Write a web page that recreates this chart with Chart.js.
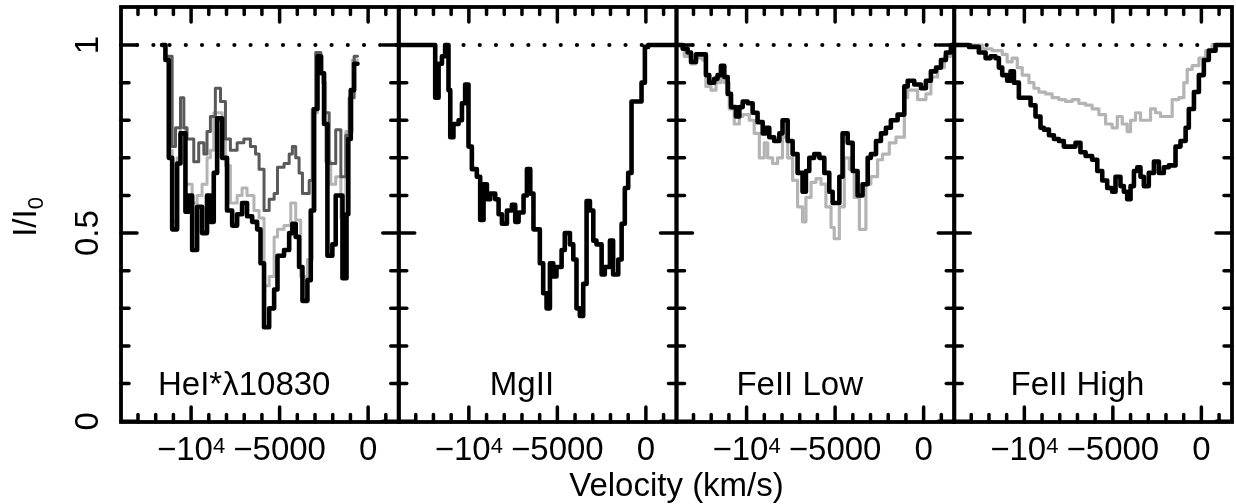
<!DOCTYPE html>
<html>
<head>
<meta charset="utf-8">
<script src="https://cdn.jsdelivr.net/npm/chart.js@4.4.1/dist/chart.umd.min.js"></script>
<style>
  body { margin: 0; background: #fff; }
  #wrap { position: relative; width: 1236px; height: 504px; }
  #wrap canvas { position: absolute; left: 0; top: 0; }
</style>
</head>
<body>
<div id="wrap">
  <canvas id="p0" width="1236" height="504"></canvas>
  <canvas id="p1" width="1236" height="504"></canvas>
  <canvas id="p2" width="1236" height="504"></canvas>
  <canvas id="p3" width="1236" height="504"></canvas>
</div>
<script>
// ---- data (velocity km/s, I/I0), each point starts a step ----
const panelNames = ['HeI*λ10830', 'MgII', 'FeII Low', 'FeII High'];
const velRange = [-13960, 1730];
const fluxRange = [-0.002, 1.101];
const xMajorTicks = [-10000, -5000, 0];
const xTickLabels = ['−10^4', '−5000', '0'];
const yMajorTicks = [0, 0.5, 1];
const yTickLabels = ['0', '0.5', '1'];

const heBlack = [[-11640,1.00],[-11450,0.96],[-11260,0.70],[-11070,0.51],[-10790,0.685],[-10600,0.765],
  [-10320,0.557],[-10130,0.60],[-9940,0.455],[-9660,0.57],[-9380,0.50],[-9100,0.60],[-8910,0.53],
  [-8720,0.66],[-8530,0.805],[-8250,0.70],[-7970,0.56],[-7680,0.52],[-7400,0.55],[-7120,0.58],
  [-6840,0.545],[-6550,0.53],[-6270,0.51],[-6080,0.42],[-5880,0.25],[-5590,0.30],[-5310,0.35],
  [-5120,0.44],[-4750,0.455],[-4460,0.50],[-4280,0.525],[-4090,0.49],[-3900,0.41],[-3710,0.32],
  [-3430,0.375],[-3240,0.56],[-3050,0.83],[-2860,0.97],[-2670,0.925],[-2490,0.79],[-2300,0.44],
  [-2020,0.47],[-1830,0.60],[-1450,0.38],[-1220,0.55],[-1120,0.75],[-980,0.88],[-790,0.95],[-600,0.95]];

const heDark = [[-11450,0.97],[-11070,0.73],[-10880,0.78],[-10600,0.86],[-10410,0.78],[-10230,0.75],
  [-9850,0.69],[-9570,0.74],[-9280,0.71],[-9100,0.77],[-8910,0.81],[-8630,0.885],[-8340,0.85],
  [-8060,0.75],[-7780,0.72],[-7400,0.74],[-7020,0.75],[-6650,0.73],[-6360,0.71],[-6160,0.67],
  [-5880,0.56],[-5590,0.59],[-5310,0.605],[-5120,0.675],[-4750,0.685],[-4460,0.71],[-4280,0.73],
  [-4090,0.70],[-3900,0.66],[-3710,0.605],[-3330,0.64],[-3150,0.83],[-2960,0.98],[-2670,0.925],
  [-2490,0.82],[-2200,0.685],[-1830,0.775],[-1540,0.65],[-1260,0.76],[-1070,0.86],[-790,0.97],[-600,0.97]];

const heLight = [[-11640,1.00],[-11450,0.965],[-11260,0.72],[-11070,0.53],[-10790,0.70],[-10600,0.78],
  [-10320,0.63],[-9940,0.58],[-9660,0.60],[-9380,0.63],[-9100,0.70],[-8910,0.72],[-8720,0.82],
  [-8250,0.75],[-8060,0.68],[-7780,0.58],[-7400,0.60],[-7120,0.62],[-6840,0.60],[-6450,0.56],
  [-6160,0.54],[-5880,0.36],[-5590,0.385],[-5310,0.49],[-5120,0.51],[-4750,0.52],[-4370,0.58],
  [-4090,0.535],[-3810,0.385],[-3430,0.43],[-3150,0.82],[-2860,0.97],[-2580,0.90],[-2400,0.69],
  [-2110,0.63],[-1830,0.65],[-1540,0.54],[-1260,0.77],[-890,0.96],[-600,0.96]];

const mgBlack = [[-13960,1.00],[-11900,0.86],[-11710,0.95],[-11520,0.97],[-11340,1.00],[-11150,0.88],
  [-11050,0.755],[-10870,0.79],[-10580,0.80],[-10390,0.845],[-10210,0.895],[-10020,0.73],[-9830,0.67],
  [-9550,0.65],[-9360,0.535],[-9170,0.63],[-8980,0.59],[-8790,0.605],[-8510,0.59],[-8320,0.55],
  [-8130,0.525],[-7850,0.56],[-7570,0.575],[-7380,0.53],[-7190,0.555],[-6910,0.60],[-6720,0.67],
  [-6530,0.605],[-6350,0.51],[-5990,0.42],[-5800,0.34],[-5610,0.30],[-5420,0.42],[-5230,0.385],
  [-5050,0.41],[-4760,0.455],[-4580,0.50],[-4290,0.47],[-4100,0.43],[-3920,0.30],[-3730,0.28],
  [-3540,0.365],[-3350,0.585],[-3160,0.56],[-2970,0.48],[-2790,0.47],[-2500,0.39],[-2320,0.41],
  [-2030,0.48],[-1850,0.39],[-1560,0.43],[-1370,0.525],[-1190,0.62],[-1000,0.66],[-810,0.85],
  [-245,0.90],[-56,0.995],[130,1.00],[1730,1.00]];

const feLowBlack = [[-13960,1.00],[-13610,0.99],[-13330,0.98],[-13140,0.955],[-12860,0.975],[-12300,0.92],
  [-12110,0.90],[-11830,0.91],[-11640,0.92],[-11450,0.945],[-11260,0.915],[-11070,0.87],[-10880,0.835],
  [-10600,0.81],[-10410,0.835],[-10220,0.85],[-9940,0.845],[-9660,0.82],[-9380,0.795],[-9090,0.765],
  [-8910,0.78],[-8720,0.755],[-8440,0.745],[-8150,0.765],[-7970,0.80],[-7680,0.745],[-7400,0.71],
  [-7120,0.66],[-6840,0.61],[-6650,0.665],[-6460,0.70],[-6180,0.71],[-5890,0.70],[-5610,0.66],
  [-5330,0.61],[-5140,0.58],[-4760,0.65],[-4580,0.765],[-4290,0.74],[-4010,0.665],[-3730,0.60],
  [-3450,0.63],[-3160,0.70],[-2980,0.71],[-2690,0.745],[-2410,0.765],[-2130,0.78],[-1850,0.80],
  [-1470,0.815],[-1090,0.89],[-900,0.905],[-530,0.895],[-150,0.885],[130,0.905],[410,0.93],
  [700,0.94],[980,0.96],[1260,0.98],[1540,1.00],[1730,1.00]];

const feLowGray = [[-13960,1.00],[-13520,0.97],[-13140,0.95],[-12860,0.965],[-12480,0.96],[-12300,0.89],
  [-12010,0.88],[-11730,0.90],[-11450,0.93],[-11260,0.90],[-10980,0.83],[-10700,0.79],[-10410,0.81],
  [-10220,0.815],[-9850,0.80],[-9570,0.765],[-9280,0.70],[-9000,0.74],[-8810,0.70],[-8530,0.685],
  [-8250,0.70],[-7970,0.755],[-7680,0.70],[-7400,0.64],[-7120,0.57],[-6840,0.53],[-6650,0.595],
  [-6360,0.635],[-6080,0.645],[-5800,0.63],[-5520,0.57],[-5230,0.515],[-5050,0.485],[-4760,0.57],
  [-4480,0.70],[-4200,0.67],[-3920,0.595],[-3630,0.51],[-3260,0.63],[-2980,0.65],[-2600,0.695],
  [-2320,0.71],[-1940,0.74],[-1560,0.755],[-1090,0.86],[-900,0.88],[-340,0.855],[130,0.87],
  [410,0.915],[790,0.94],[1170,0.97],[1540,0.995],[1730,1.00]];

const feHighBlack = [[-13960,1.00],[-13130,0.995],[-12570,0.98],[-12190,0.965],[-11910,0.97],[-11630,0.965],
  [-11440,0.94],[-11250,0.92],[-10970,0.905],[-10780,0.93],[-10590,0.90],[-10310,0.86],[-10030,0.86],
  [-9650,0.84],[-9370,0.81],[-9090,0.78],[-8900,0.775],[-8610,0.76],[-8330,0.75],[-8050,0.745],
  [-7770,0.73],[-7390,0.73],[-7110,0.74],[-6830,0.715],[-6540,0.705],[-6170,0.695],[-5880,0.665],
  [-5600,0.64],[-5320,0.62],[-5040,0.61],[-4850,0.65],[-4570,0.625],[-4380,0.61],[-4190,0.59],
  [-4000,0.625],[-3810,0.665],[-3620,0.675],[-3440,0.65],[-3250,0.625],[-2970,0.66],[-2680,0.69],
  [-2400,0.66],[-2120,0.675],[-1840,0.68],[-1460,0.73],[-1180,0.745],[-890,0.78],[-710,0.83],
  [-420,0.875],[-140,0.92],[140,0.96],[420,0.985],[800,1.00],[1730,1.00]];

const feHighGray = [[-13960,1.00],[-12380,0.99],[-11820,0.985],[-11250,0.975],[-10970,0.955],[-10690,0.965],
  [-10400,0.94],[-10120,0.92],[-9740,0.90],[-9460,0.885],[-9180,0.875],[-8800,0.87],[-8430,0.86],
  [-8050,0.855],[-7670,0.85],[-7300,0.855],[-6920,0.845],[-6540,0.84],[-6170,0.83],[-5790,0.815],
  [-5410,0.79],[-5040,0.78],[-4750,0.81],[-4470,0.79],[-4190,0.77],[-4000,0.80],[-3720,0.82],
  [-3440,0.80],[-3150,0.80],[-2870,0.83],[-2590,0.82],[-2310,0.81],[-2020,0.81],[-1650,0.855],
  [-1270,0.86],[-990,0.90],[-800,0.935],[-520,0.945],[-140,0.965],[240,0.985],[610,1.00],[1730,1.00]];

// ---- layout ----
const FONT = '"Liberation Sans", Arial, Helvetica, sans-serif';
const plotLeft = 121, plotTop = 7, plotBottom = 422, panelW = 277.75;
const BLACK = '#000000', DARK = '#5a5a5a', LIGHT = '#b4b4b4';

// draws the dotted unity line, the frame, inward ticks and all labels
const panelDeco = {
  id: 'panelDeco',
  beforeDatasetsDraw(chart, args, opts) {
    const ctx = chart.ctx, a = chart.chartArea, y1 = chart.scales.y.getPixelForValue(1);
    ctx.save();
    ctx.strokeStyle = BLACK;
    ctx.lineWidth = 4.2;
    ctx.lineCap = 'round';
    ctx.setLineDash([0, 16.2]);
    ctx.beginPath();
    ctx.moveTo(a.left, y1);
    ctx.lineTo(a.right, y1);
    ctx.stroke();
    ctx.restore();
  },
  afterDatasetsDraw(chart, args, opts) {
    const ctx = chart.ctx, a = chart.chartArea;
    const xs = chart.scales.x, ys = chart.scales.y;
    ctx.save();
    ctx.strokeStyle = BLACK;
    ctx.fillStyle = BLACK;
    ctx.lineCap = 'round';
    ctx.lineWidth = 3.5;

    const tick = (x0, y0, x1, y1) => { ctx.beginPath(); ctx.moveTo(x0, y0); ctx.lineTo(x1, y1); ctx.stroke(); };
    // x ticks every 1000 km/s, long ones at the labelled values
    for (let v = -13000; v <= 1000; v += 1000) {
      const px = xs.getPixelForValue(v);
      const len = xMajorTicks.includes(v) ? 15 : 7.5;
      tick(px, a.top, px, a.top + len);
      tick(px, a.bottom, px, a.bottom - len);
    }
    // y ticks every 0.1
    for (let i = 0; i <= 10; i++) {
      const py = ys.getPixelForValue(i / 10);
      const len = (i % 5 === 0) ? 16 : 8;
      tick(a.left, py, a.left + len, py);
      tick(a.right, py, a.right - len, py);
    }
    ctx.lineWidth = 3.8;
    ctx.lineCap = 'butt';
    ctx.strokeRect(a.left, a.top, a.right - a.left, a.bottom - a.top);

    // x tick labels with optional superscript
    ctx.textBaseline = 'alphabetic';
    xMajorTicks.forEach((v, i) => {
      const [main, sup] = xTickLabels[i].split('^');
      ctx.font = '33px ' + FONT;
      const w1 = ctx.measureText(main).width;
      ctx.font = '22px ' + FONT;
      const w2 = sup ? ctx.measureText(sup).width : 0;
      const x0 = xs.getPixelForValue(v) - (w1 + w2) / 2;
      ctx.font = '33px ' + FONT;
      ctx.textAlign = 'left';
      ctx.fillText(main, x0, 460);
      if (sup) {
        ctx.font = '22px ' + FONT;
        ctx.fillText(sup, x0 + w1, 453);
      }
    });

    // panel name
    ctx.font = '33px ' + FONT;
    ctx.textAlign = 'center';
    ctx.fillText(opts.label, xs.getPixelForValue(-7000), ys.getPixelForValue(0.1) + 11);

    if (opts.first) {
      // y tick labels, rotated
      yMajorTicks.forEach((v, i) => {
        ctx.save();
        ctx.translate(98, ys.getPixelForValue(v));
        ctx.rotate(-Math.PI / 2);
        ctx.textAlign = 'center';
        ctx.font = '33px ' + FONT;
        ctx.fillText(yTickLabels[i], 0, 0);
        ctx.restore();
      });
      // y title I/I0
      ctx.save();
      ctx.translate(36, 217);
      ctx.rotate(-Math.PI / 2);
      ctx.font = '33px ' + FONT;
      const wm = ctx.measureText('I/I').width;
      ctx.font = '22px ' + FONT;
      const ws = ctx.measureText('0').width;
      ctx.textAlign = 'left';
      ctx.font = '33px ' + FONT;
      ctx.fillText('I/I', -(wm + ws) / 2, 0);
      ctx.font = '22px ' + FONT;
      ctx.fillText('0', -(wm + ws) / 2 + wm, 7);
      ctx.restore();
      // shared x title
      ctx.font = '33px ' + FONT;
      ctx.textAlign = 'center';
      ctx.fillText('Velocity (km/s)', plotLeft + 2 * panelW, 496);
    }
    ctx.restore();
  }
};

function series(points, color, width, order) {
  return {
    data: points.map(p => ({ x: p[0], y: p[1] })),
    borderColor: color,
    borderWidth: width,
    stepped: true,
    pointRadius: 0,
    fill: false,
    order: order,
    borderJoinStyle: 'round',
    borderCapStyle: 'round'
  };
}

function makePanel(k, datasets) {
  const left = plotLeft + k * panelW;
  const right = left + panelW;
  return new Chart(document.getElementById('p' + k), {
    type: 'line',
    data: { datasets: datasets },
    options: {
      responsive: false,
      animation: false,
      devicePixelRatio: 1,
      events: [],
      layout: { padding: { left: left, right: 1236 - right, top: plotTop, bottom: 504 - plotBottom } },
      scales: {
        x: { type: 'linear', min: velRange[0], max: velRange[1], display: false },
        y: { type: 'linear', min: fluxRange[0], max: fluxRange[1], display: false }
      },
      plugins: {
        legend: { display: false },
        tooltip: { enabled: false },
        panelDeco: { label: panelNames[k], first: k === 0 }
      }
    },
    plugins: [panelDeco]
  });
}

makePanel(0, [series(heBlack, BLACK, 4.6, 0), series(heDark, DARK, 3, 1), series(heLight, LIGHT, 3, 2)]);
makePanel(1, [series(mgBlack, BLACK, 4.6, 0)]);
makePanel(2, [series(feLowBlack, BLACK, 4.6, 0), series(feLowGray, LIGHT, 3.2, 1)]);
makePanel(3, [series(feHighBlack, BLACK, 4.6, 0), series(feHighGray, LIGHT, 3.2, 1)]);
</script>
</body>
</html>
